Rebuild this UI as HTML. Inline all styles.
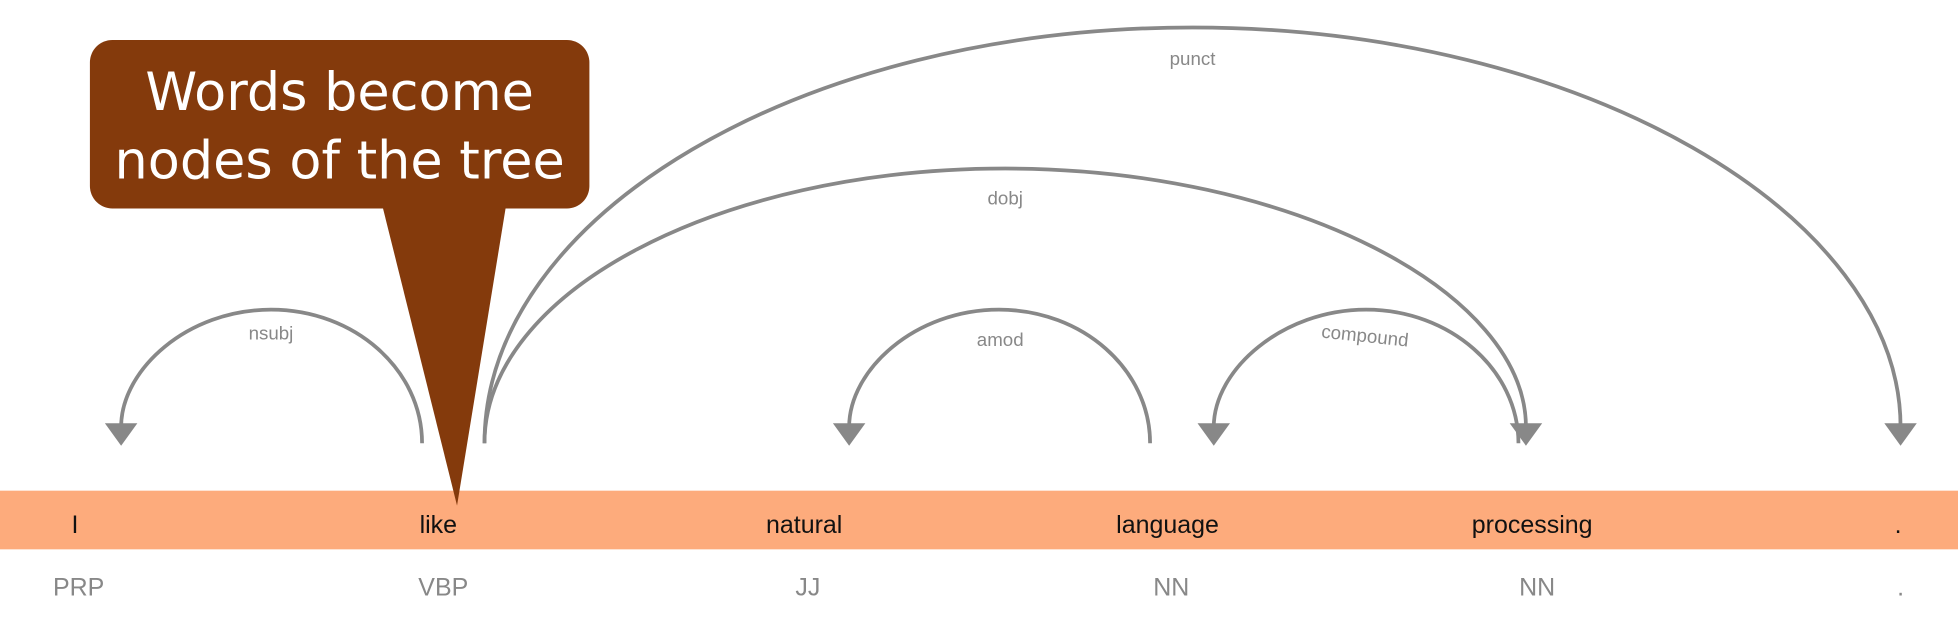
<!DOCTYPE html>
<html><head><meta charset="utf-8"><style>
html,body{margin:0;padding:0;background:#fff;}
svg{display:block;}
</style></head><body>
<svg width="1958" height="633" viewBox="0 0 1568 507" preserveAspectRatio="none" xmlns="http://www.w3.org/2000/svg">
<rect x="0" y="393" width="1568" height="47" fill="#FDAB7C"/>
<g fill="none" stroke="#888" stroke-width="3">
<path d="M338,355 C338,296 284,248 217,248 C150,248 97,296 97,342"/>
<path d="M921,355 C921,296 867,248 800,248 C733,248 680,296 680,342"/>
<path d="M1216,355 C1216,296 1161,248 1094,248 C1027,248 972,296 972,342"/>
<path d="M388,355 C388,234 575,135 805,135 C1035,135 1222,234 1222,342"/>
<path d="M388,355 C388,172 642,22 955,22 C1267,22 1522,172 1522,342"/>
</g>
<g fill="#888">
<polygon points="84,339 110,339 97,357"/>
<polygon points="667,339 693,339 680,357"/>
<polygon points="959,339 985,339 972,357"/>
<polygon points="1209,339 1235,339 1222,357"/>
<polygon points="1509,339 1535,339 1522,357"/>
</g>
<g font-family="Liberation Sans, sans-serif" font-size="15" fill="#888" text-anchor="middle">
<text x="217" y="272">nsubj</text>
<text x="801" y="277">amod</text>
<text x="1093" y="274" transform="rotate(6 1093 270)">compound</text>
<text x="805" y="164">dobj</text>
<text x="955" y="52">punct</text>
</g>
<g font-family="Liberation Sans, sans-serif" font-size="20" fill="#111" text-anchor="middle">
<text x="60" y="427">I</text>
<text x="351" y="427">like</text>
<text x="644" y="427">natural</text>
<text x="935" y="427">language</text>
<text x="1227" y="427">processing</text>
<text x="1520" y="427">.</text>
</g>
<g font-family="Liberation Sans, sans-serif" font-size="20" fill="#888" text-anchor="middle">
<text x="63" y="477">PRP</text>
<text x="355" y="477">VBP</text>
<text x="647" y="477">JJ</text>
<text x="938" y="477">NN</text>
<text x="1231" y="477">NN</text>
<text x="1522" y="477">.</text>
</g>
<rect x="72" y="32" width="400" height="135" rx="18" fill="#843A0C"/>
<polygon points="305,160 406,160 366,405" fill="#843A0C"/>
<g font-family="DejaVu Sans, sans-serif" font-size="42" fill="#fff" text-anchor="middle">
<text x="272" y="88">Words become</text>
<text x="272" y="143">nodes of the tree</text>
</g>
</svg>
</body></html>
